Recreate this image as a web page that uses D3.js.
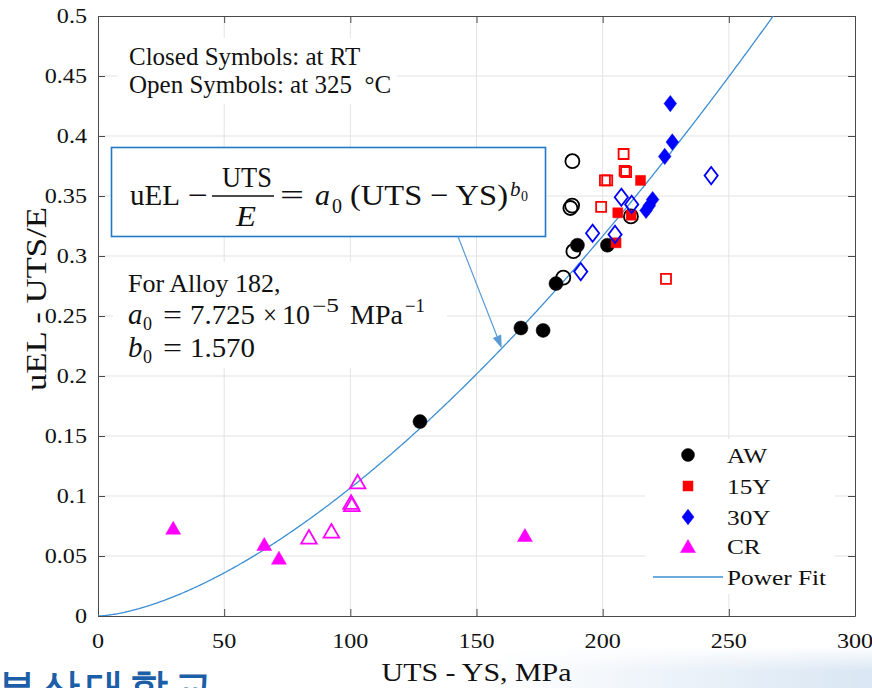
<!DOCTYPE html>
<html>
<head>
<meta charset="utf-8">
<script src="https://cdn.jsdelivr.net/npm/d3@7"></script>
<style>
  html, body { margin: 0; padding: 0; background: #fff; }
  svg { display: block; }
  text { font-family: "Liberation Serif", "Times New Roman", serif; fill: #111; }
</style>
</head>
<body>
<svg id="chart" width="872" height="688"></svg>
<script>
// ---- data: [UTS - YS (MPa), uEL - UTS/E] ----
const awRT   = [[127.6,0.162],[167.6,0.240],[176.4,0.238],[181.5,0.277],[190.0,0.309],[201.9,0.309]];
const aw325  = [[188.0,0.379],[187.9,0.342],[187.2,0.340],[188.4,0.304],[184.4,0.282],[211.2,0.333]];
const y15RT  = [[215.0,0.363],[206.0,0.336],[211.3,0.334],[205.3,0.311]];
const y15325 = [[208.3,0.385],[208.7,0.371],[209.3,0.370],[200.9,0.363],[201.8,0.363],[199.4,0.341],[225.1,0.281]];
const y30RT  = [[226.8,0.427],[227.6,0.395],[224.6,0.383],[219.8,0.347],[218.5,0.342],[217.2,0.338]];
const y30325 = [[243.0,0.367],[207.4,0.349],[211.5,0.343],[196.0,0.319],[204.9,0.318],[191.3,0.287]];
const crRT   = [[29.8,0.0736],[65.9,0.060],[71.7,0.0486],[169.2,0.0675]];
const cr325  = [[83.6,0.066],[92.5,0.071],[100.3,0.095],[100.6,0.093],[102.9,0.112]];

// power fit parameters for Alloy 182
const a0 = 7.725e-5;
const b0 = 1.570;

const xTicks = [0, 50, 100, 150, 200, 250, 300];
const yTicks = [0, 0.05, 0.1, 0.15, 0.2, 0.25, 0.3, 0.35, 0.4, 0.45, 0.5];
const legendNames = ["AW", "15Y", "30Y", "CR", "Power Fit"];
const arrowFromX = 142.7, arrowFromY = 0.316, arrowToX = 160;

// ---- layout ----
const L = 98, R = 855, T = 16, B = 616;
const SX = 1.15; // figure text is slightly wide
const svg = d3.select("#chart");

const x = d3.scaleLinear().domain([0, 300]).range([L, R]);
const y = d3.scaleLinear().domain([0, 0.5]).range([B, T]);

// slide background haze at the bottom right
const defs = svg.append("defs");
const hz = defs.append("linearGradient").attr("id", "hazeX").attr("x1", 0).attr("x2", 1).attr("y1", 0).attr("y2", 0);
hz.append("stop").attr("offset", "0").attr("stop-color", "#ffffff");
hz.append("stop").attr("offset", "1").attr("stop-color", "#d9e6f3");
const hm = defs.append("linearGradient").attr("id", "hazeY").attr("x1", 0).attr("x2", 0).attr("y1", 0).attr("y2", 1);
hm.append("stop").attr("offset", "0").attr("stop-color", "#000");
hm.append("stop").attr("offset", "0.6").attr("stop-color", "#fff");
defs.append("mask").attr("id", "hazeMask").append("rect")
  .attr("x", 480).attr("y", 646).attr("width", 392).attr("height", 42).attr("fill", "url(#hazeY)");
svg.append("rect").attr("x", 480).attr("y", 646).attr("width", 392).attr("height", 42)
  .attr("fill", "url(#hazeX)").attr("mask", "url(#hazeMask)");

defs.append("clipPath").attr("id", "plotclip").append("rect")
  .attr("x", L).attr("y", T).attr("width", R - L).attr("height", B - T);

// grid
const grid = svg.append("g");
grid.selectAll(".gx").data(xTicks.slice(1, -1)).join("line")
  .attr("x1", d => x(d)).attr("x2", d => x(d)).attr("y1", T).attr("y2", B)
  .attr("stroke", "#e3e3e3").attr("stroke-width", 1);
grid.selectAll(".gy").data(yTicks.slice(1, -1)).join("line")
  .attr("x1", L).attr("x2", R).attr("y1", d => y(d)).attr("y2", d => y(d))
  .attr("stroke", "#e3e3e3").attr("stroke-width", 1);

// axes (box with inward ticks on all sides)
const axisColor = "#4a4a4a";
function styleAxis(g) {
  g.select(".domain").attr("stroke", axisColor);
  g.selectAll(".tick line").attr("stroke", axisColor);
  g.selectAll("text").remove();
}
svg.append("g").attr("transform", `translate(0,${B})`)
  .call(d3.axisBottom(x).tickValues(xTicks).tickSizeInner(-7).tickSizeOuter(0)).call(styleAxis);
svg.append("g").attr("transform", `translate(0,${T})`)
  .call(d3.axisTop(x).tickValues(xTicks).tickSizeInner(-7).tickSizeOuter(0)).call(styleAxis);
svg.append("g").attr("transform", `translate(${L},0)`)
  .call(d3.axisLeft(y).tickValues(yTicks).tickSizeInner(-7).tickSizeOuter(0)).call(styleAxis);
svg.append("g").attr("transform", `translate(${R},0)`)
  .call(d3.axisRight(y).tickValues(yTicks).tickSizeInner(-7).tickSizeOuter(0)).call(styleAxis);

function wideText(px, py, str, size, anchor) {
  return svg.append("text")
    .attr("transform", `translate(${px},${py}) scale(${SX},1)`)
    .attr("font-size", size).attr("text-anchor", anchor || "start").text(str);
}

// tick labels
xTicks.forEach(t => wideText(x(t), 648, String(t), 21, "middle"));
yTicks.forEach(t => wideText(87, y(t) + 7, String(t), 21, "end"));

// axis titles
wideText((L + R) / 2, 681, "UTS - YS, MPa", 26, "middle");
svg.append("text")
  .attr("transform", `translate(46,299) rotate(-90) scale(1.2,1)`)
  .attr("font-size", 29).attr("text-anchor", "middle").text("uEL - UTS/E");

// power fit curve
const fit = d3.range(0, 300.5, 0.5).map(v => [v, a0 * Math.pow(v, b0)]);
const plot = svg.append("g").attr("clip-path", "url(#plotclip)");
const fitColor = "#3d8fd4";
plot.append("path").datum(fit)
  .attr("d", d3.line().x(d => x(d[0])).y(d => y(d[1])))
  .attr("fill", "none").attr("stroke", fitColor).attr("stroke-width", 1.3);

// marker shapes
const shapes = {
  circle: (s) => { const r = s; return `M${-r},0A${r},${r} 0 1,0 ${r},0A${r},${r} 0 1,0 ${-r},0Z`; },
  square: (s) => `M${-s},${-s}H${s}V${s}H${-s}Z`,
  diamond: (s) => `M0,${-s * 1.3}L${s},0L0,${s * 1.3}L${-s},0Z`,
  triangle: (s) => `M0,${-s * 0.87}L${s},${s * 0.87}L${-s},${s * 0.87}Z`
};
function markers(data, shape, size, color, filled) {
  plot.append("g").selectAll("path").data(data).join("path")
    .attr("transform", d => `translate(${x(d[0])},${y(d[1])})`)
    .attr("d", shapes[shape](size))
    .attr("fill", filled ? color : "none")
    .attr("stroke", color).attr("stroke-width", filled ? 0.5 : 1.8);
}
markers(awRT, "circle", 7, "#000000", true);
markers(aw325, "circle", 7, "#000000", false);
markers(y15RT, "square", 5, "#ff0000", true);
markers(y15325, "square", 5, "#ff0000", false);
markers(y30RT, "diamond", 6.3, "#0000ff", true);
markers(y30325, "diamond", 6.6, "#0000ff", false);
markers(crRT, "triangle", 7.5, "#ff00ff", true);
markers(cr325, "triangle", 7.8, "#ff00ff", false);

// legend
const lg = svg.append("g");
lg.append("rect").attr("x", 645).attr("y", 439).attr("width", 190).attr("height", 155).attr("fill", "#fff");
const lgItems = [
  { shape: "circle", size: 6.5, color: "#000000", cy: 455 },
  { shape: "square", size: 5, color: "#ff0000", cy: 486 },
  { shape: "diamond", size: 6, color: "#0000ff", cy: 517 },
  { shape: "triangle", size: 7.5, color: "#ff00ff", cy: 546 }
];
lgItems.forEach((it, i) => {
  lg.append("path").attr("transform", `translate(688,${it.cy})`).attr("d", shapes[it.shape](it.size))
    .attr("fill", it.color).attr("stroke", it.color).attr("stroke-width", 0.5);
  wideText(727, it.cy + 8, legendNames[i], 22, "start");
});
lg.append("line").attr("x1", 653).attr("x2", 723).attr("y1", 577).attr("y2", 577)
  .attr("stroke", fitColor).attr("stroke-width", 1.3);
wideText(727, 585, legendNames[4], 22, "start");

// annotation: symbol note
svg.append("rect").attr("x", 117).attr("y", 38).attr("width", 280).attr("height", 66).attr("fill", "#fff");
svg.append("text").attr("x", 129).attr("y", 65).attr("font-size", 25).text("Closed Symbols: at RT");
svg.append("text").attr("x", 129).attr("y", 93).attr("font-size", 25).text("Open Symbols: at 325\u2002\u00B0C");

// annotation: fit parameters
svg.append("rect").attr("x", 113).attr("y", 262).attr("width", 334).attr("height", 106).attr("fill", "#fff");
svg.append("text").attr("x", 128).attr("y", 292).attr("font-size", 26).text("For Alloy 182,");
function piece(px, py, str, size, italic, len) {
  const t = svg.append("text").attr("x", px).attr("y", py).attr("font-size", size).text(str);
  if (italic) t.attr("font-style", "italic");
  if (len) t.attr("textLength", len).attr("lengthAdjust", "spacingAndGlyphs");
  return t;
}
// a0 line
piece(128, 324, "a", 29, true);
piece(143, 330, "0", 18);
piece(163, 324, "=", 28, false, 19);
piece(190, 324, (a0 * 1e5).toFixed(3), 28, false, 65);
piece(263, 324, "\u00D7", 28, false, 14);
piece(282, 324, "10", 28, false, 28);
piece(312, 312, "\u22125", 18, false, 27);
piece(350, 324, "MPa", 28, false, 53);
piece(405, 312, "\u22121", 18, false, 20);
// b0 line
piece(128, 357, "b", 29, true);
piece(143, 363, "0", 18);
piece(163, 357, "=", 28, false, 19);
piece(190, 357, b0.toFixed(3), 28, false, 65);

// equation box
svg.append("rect").attr("x", 111.5).attr("y", 147.5).attr("width", 434).attr("height", 89)
  .attr("fill", "#fff").attr("stroke", "#1f78c8").attr("stroke-width", 1.6);
piece(130, 205, "uEL", 30, false, 50);
piece(188, 205, "\u2212", 30, false, 20);
svg.append("line").attr("x1", 212).attr("x2", 274).attr("y1", 196).attr("y2", 196).attr("stroke", "#111").attr("stroke-width", 1.6);
piece(222, 187, "UTS", 30, false, 50);
piece(236, 226, "E", 30, true, 20);
piece(280, 205, "=", 30, false, 24);
piece(315, 205, "a", 30, true);
piece(332, 213, "0", 20);
piece(350, 205, "(UTS \u2212 YS)", 30, false, 158);
piece(510, 196, "b", 21, true);
piece(521, 201, "0", 14);

// arrow from the equation to the fit curve
const ax1 = x(arrowFromX), ay1 = y(arrowFromY);
const ax2 = x(arrowToX), ay2 = y(a0 * Math.pow(arrowToX, b0));
const ang = Math.atan2(ay2 - ay1, ax2 - ax1);
const hl = 13, hw = 4.5;
const bx = ax2 - hl * Math.cos(ang), by = ay2 - hl * Math.sin(ang);
svg.append("line").attr("x1", ax1).attr("y1", ay1).attr("x2", bx).attr("y2", by)
  .attr("stroke", "#5b9bd5").attr("stroke-width", 1.2);
svg.append("path")
  .attr("d", `M${ax2},${ay2}L${bx - hw * Math.sin(ang)},${by + hw * Math.cos(ang)}L${bx + hw * Math.sin(ang)},${by - hw * Math.cos(ang)}Z`)
  .attr("fill", "#5b9bd5");

// university name at the slide footer
svg.append("text").attr("x", -2).attr("y", 700).attr("font-size", 38).attr("font-weight", "bold")
  .attr("font-family", "'Noto Sans CJK KR', sans-serif").attr("letter-spacing", 6)
  .style("fill", "#1c5ea8").text("부산대학교");
</script>
</body>
</html>
